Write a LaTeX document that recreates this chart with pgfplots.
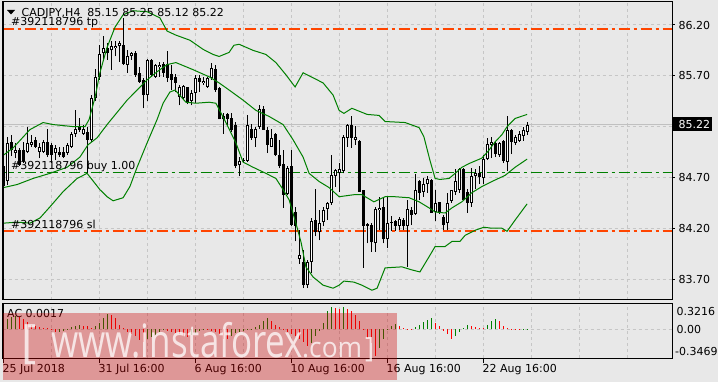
\documentclass[border=0pt]{standalone}
\usepackage{pgfplots}
\pgfplotsset{compat=1.18}
\usepackage{pgfplotstable}
\usepackage{fontspec}
\setmainfont{DejaVu Sans}
\newfontfamily\wmfont{Open Sans}
\definecolor{bgc}{RGB}{232,232,232}
\definecolor{gridc}{RGB}{198,198,198}
\definecolor{bbg}{RGB}{0,128,0}
\definecolor{tpslc}{RGB}{255,69,0}
\definecolor{buyc}{RGB}{0,128,0}
\definecolor{acgc}{RGB}{0,128,0}
\definecolor{acrc}{RGB}{255,0,0}
\definecolor{bidc}{RGB}{192,192,192}
\definecolor{wmred}{RGB}{204,0,0}
\newcommand{\lab}{\fontsize{11bp}{13bp}\selectfont}

\pgfplotstableread{
i o h l c
0 84.81 84.91 84.41 84.62
1 84.66 85.10 84.63 85.04
2 85.05 85.12 84.91 84.97
3 84.94 85.04 84.89 84.97
4 84.97 84.99 84.81 84.82
5 84.97 85.05 84.84 84.86
6 84.95 85.20 84.94 85.04
7 85.02 85.12 85.00 85.05
8 85.07 85.10 84.99 85.00
9 84.95 85.04 84.89 85.00
10 84.95 85.07 84.94 85.05
11 85.05 85.18 84.90 84.92
12 85.02 85.04 84.84 84.92
13 84.94 85.02 84.87 84.99
14 84.95 85.00 84.90 84.92
15 84.95 85.00 84.89 84.90
16 84.94 85.04 84.92 85.02
17 85.00 85.15 84.99 85.13
18 85.13 85.36 85.10 85.18
19 85.20 85.28 85.15 85.17
20 85.13 85.22 85.12 85.18
21 85.15 85.20 84.74 85.07
22 85.07 85.51 85.05 85.48
23 85.48 85.77 85.45 85.69
24 85.69 86.00 85.66 85.91
25 85.92 86.09 85.86 85.97
26 85.97 86.02 85.86 85.92
27 85.95 86.04 85.76 85.99
28 85.97 86.04 85.89 85.99
29 85.99 86.04 85.84 86.02
30 86.00 86.27 85.81 85.82
31 85.81 85.95 85.73 85.89
32 85.89 85.93 85.86 85.92
33 85.92 85.94 85.69 85.71
34 85.73 85.79 85.63 85.64
35 85.66 85.68 85.38 85.51
36 85.51 85.87 85.45 85.86
37 85.86 85.87 85.69 85.71
38 85.69 85.82 85.68 85.81
39 85.79 85.84 85.69 85.81
40 85.82 85.84 85.69 85.73
41 85.82 85.94 85.64 85.68
42 85.72 85.81 85.56 85.66
43 85.69 85.72 85.54 85.63
44 85.49 85.61 85.41 85.59
45 85.48 85.61 85.46 85.60
46 85.59 85.59 85.42 85.43
47 85.45 85.56 85.41 85.53
48 85.53 85.71 85.43 85.68
49 85.68 85.71 85.54 85.64
50 85.63 85.69 85.61 85.65
51 85.59 85.69 85.58 85.68
52 85.68 85.83 85.66 85.78
53 85.77 85.81 85.54 85.56
54 85.58 85.59 85.27 85.27
55 85.27 85.33 85.13 85.30
56 85.32 85.33 85.22 85.27
57 85.28 85.33 85.15 85.17
58 85.22 85.25 84.79 84.81
59 84.82 84.90 84.71 84.86
60 84.86 84.89 84.84 84.87
61 84.86 85.31 84.85 85.22
62 85.18 85.23 85.07 85.09
63 85.09 85.20 85.00 85.18
64 85.20 85.41 85.18 85.37
65 85.37 85.40 85.17 85.17
66 85.17 85.20 84.94 85.02
67 85.00 85.18 85.00 85.09
68 85.13 85.14 84.91 84.92
69 84.92 85.07 84.79 84.81
70 84.83 84.97 84.40 84.53
71 84.54 84.81 84.53 84.79
72 84.81 84.97 84.22 84.23
73 84.36 84.41 84.07 84.22
74 83.90 84.18 83.85 83.94
75 83.87 83.99 83.61 83.64
76 83.64 83.89 83.61 83.87
77 83.87 84.30 83.76 84.27
78 84.28 84.59 84.12 84.16
79 84.16 84.38 84.08 84.25
80 84.26 84.41 84.22 84.38
81 84.39 84.46 84.28 84.45
82 84.45 84.92 84.43 84.72
83 84.71 84.78 84.61 84.77
84 84.74 84.84 84.56 84.78
85 84.76 85.12 84.74 85.10
86 85.09 85.23 85.00 85.22
87 85.22 85.30 84.99 85.09
88 85.07 85.21 85.02 85.10
89 85.06 85.07 84.56 84.56
90 84.58 84.58 83.81 84.22
91 84.24 84.25 84.05 84.22
92 84.23 84.25 83.97 84.06
93 84.05 84.41 83.97 84.39
94 84.38 84.51 84.18 84.40
95 84.41 84.50 84.05 84.09
96 84.09 84.51 84.01 84.25
97 84.25 84.32 84.17 84.26
98 84.27 84.28 84.17 84.22
99 84.22 84.31 84.18 84.29
100 84.28 84.30 84.18 84.22
101 84.22 84.48 83.82 84.39
102 84.38 84.41 84.23 84.33
103 84.34 84.73 84.33 84.58
104 84.66 84.67 84.48 84.55
105 84.56 84.69 84.51 84.64
106 84.64 84.71 84.55 84.68
107 84.67 84.68 84.35 84.35
108 84.36 84.58 84.27 84.45
109 84.46 84.46 84.34 84.35
110 84.31 84.33 84.18 84.23
111 84.25 84.55 84.18 84.45
112 84.47 84.58 84.45 84.58
113 84.56 84.78 84.53 84.66
114 84.58 84.79 84.55 84.78
115 84.78 84.79 84.47 84.48
116 84.56 84.59 84.35 84.45
117 84.45 84.79 84.41 84.71
118 84.71 84.78 84.59 84.74
119 84.74 84.81 84.64 84.70
120 84.69 84.92 84.64 84.88
121 84.88 85.09 84.87 85.03
122 85.02 85.10 84.89 85.05
123 85.04 85.05 84.90 84.93
124 84.92 85.05 84.90 85.04
125 85.06 85.07 84.84 84.86
126 84.85 85.30 84.76 85.17
127 85.17 85.18 84.93 85.05
128 85.04 85.12 85.02 85.10
129 85.06 85.16 85.05 85.13
130 85.11 85.20 85.06 85.17
131 85.15 85.25 85.12 85.22
}\candles

\pgfplotstableread{
i v
0 0.095
1 0.129
2 0.149
3 0.162
14 -0.029
15 -0.021
16 -0.012
17 0.025
18 0.046
19 0.054
23 0.037
24 0.079
25 0.137
26 0.191
36 -0.120
37 -0.095
38 -0.071
39 -0.029
40 -0.004
47 -0.071
48 -0.037
49 -0.017
50 -0.004
57 -0.079
58 -0.046
59 -0.029
60 -0.015
61 -0.004
62 0.008
63 0.025
64 0.054
65 0.108
66 0.137
77 -0.170
78 -0.079
79 -0.017
80 0.079
81 0.220
82 0.274
85 0.274
94 -0.230
95 -0.120
96 0.010
97 0.045
98 0.065
103 0.025
104 0.054
105 0.087
106 0.120
107 0.134
113 -0.079
114 -0.029
115 0.021
116 0.054
121 0.054
122 0.108
123 0.125
130 0.001
131 0.0017
}\acgreen

\pgfplotstableread{
i v
4 0.149
5 0.129
6 0.095
7 0.054
8 0.037
9 0.033
10 0.021
11 0.012
12 0.004
13 -0.029
20 0.046
21 0.037
22 0.021
27 0.178
28 0.137
29 0.054
30 0.012
31 -0.029
32 -0.058
33 -0.079
34 -0.129
35 -0.154
41 -0.017
42 -0.029
43 -0.037
44 -0.058
45 -0.079
46 -0.087
51 -0.008
52 -0.017
53 -0.029
54 -0.058
55 -0.112
56 -0.120
67 0.108
68 0.054
69 0.025
70 0.004
71 -0.029
72 -0.058
73 -0.079
74 -0.120
75 -0.154
76 -0.203
83 0.261
84 0.253
86 0.253
87 0.220
88 0.170
89 0.108
90 -0.004
91 -0.100
92 -0.162
93 -0.320
99 0.037
100 0.012
101 0.004
102 0.003
108 0.080
109 0.037
110 -0.017
111 -0.060
112 -0.110
117 0.046
118 0.029
119 0.021
120 0.012
124 0.108
125 0.037
126 0.012
127 0.004
128 0.002
129 -0.002
}\acred

\pgfplotsset{mt/.style={
  scale only axis, anchor=south west, width=669.5bp,
  xmin=-0.25, xmax=167.125,
  axis line style={black, line width=1bp},
  xtick={12,24,...,156}, xticklabels={}, yticklabels={},
  tick style={draw=none},
  grid=major,
  major grid style={gridc, line width=1bp, dash pattern=on 3bp off 3bp},
}}

\begin{document}
\begin{tikzpicture}
\useasboundingbox (0,0) rectangle (718bp,382bp);
\fill[bgc] (0,0) rectangle (718bp,382bp);

\begin{axis}[mt, at={(2.5bp,82bp)}, height=298bp, ymin=83.494, ymax=86.426,
  ytick={83.7,84.2,84.7,85.2,85.7,86.2}]
\addplot[draw=bidc, line width=1bp, mark=none, solid] coordinates {(-0.25,85.22) (167.125,85.22)};
\addplot[draw=tpslc, line width=1.6bp, mark=none, dash pattern=on 11bp off 4bp on 3bp off 4bp] coordinates {(-0.25,86.16) (167.125,86.16)};
\addplot[draw=buyc, line width=1.4bp, mark=none, dash pattern=on 11bp off 4bp on 3bp off 4bp] coordinates {(-0.25,84.75) (167.125,84.75)};
\addplot[draw=tpslc, line width=1.6bp, mark=none, dash pattern=on 11bp off 4bp on 3bp off 4bp] coordinates {(-0.25,84.17) (167.125,84.17)};
% wicks
\addplot[draw=none, mark=none, error bars/.cd, y dir=plus, y explicit, error mark=none,
  error bar style={draw=black, line width=1bp, solid}]
  table[x=i, y=l, y error expr=\thisrow{h}-\thisrow{l}] {\candles};
% bodies
\addplot[draw=none, mark=none, error bars/.cd, y dir=plus, y explicit, error mark=none,
  error bar style={draw=black, line width=3bp, solid}]
  table[x=i, y expr={min(\thisrow{o},\thisrow{c})}, y error expr={max(abs(\thisrow{c}-\thisrow{o}),0.0098)}] {\candles};
% hollow interiors of rising candles
\addplot[draw=none, mark=none, error bars/.cd, y dir=plus, y explicit, error mark=none,
  error bar style={draw=white, line width=1bp, solid}]
  table[x=i, y expr={\thisrow{o}+0.0098}, y error expr={max(\thisrow{c}-\thisrow{o}-0.0197,0)}] {\candles};
% Bollinger bands
\addplot[bbg, line width=1bp, mark=none] coordinates {
(0,84.92) (2.4,84.99) (6.6,85.17) (9.9,85.24) (12.4,85.22) (17.4,85.20) (20.4,85.20) (21.4,85.27) (22.9,85.49) (24.1,85.73) (25.9,85.98) (27.9,86.18) (29.9,86.30) (32.4,86.34) (35.9,86.33) (39.1,86.27) (40.9,86.14) (43.1,86.10) (46.6,86.05) (49.9,85.96) (52.4,85.91) (53.9,85.89) (56.4,85.93) (57.6,86.00) (58.9,86.01) (62.4,85.95) (65.6,85.91) (68.1,85.83) (70.6,85.71) (72.9,85.59) (74.9,85.73) (76.4,85.70) (79.9,85.63) (82.4,85.51) (83.9,85.36) (85.1,85.33) (87.1,85.38) (90.9,85.32) (93.9,85.31) (95.4,85.25) (100.4,85.24) (103.9,85.19) (105.1,85.10) (106.6,84.87) (107.9,84.69) (109.1,84.68) (111.4,84.69) (112.9,84.74) (114.6,84.80) (116.6,84.84) (119.6,84.89) (121.4,84.97) (122.9,85.05) (124.6,85.12) (125.9,85.20) (127.9,85.28) (130.9,85.32)};
\addplot[bbg, line width=1bp, mark=none] coordinates {
(0,84.60) (3.4,84.63) (7.4,84.69) (11.6,84.74) (15.9,84.80) (19.1,84.90) (21.1,85.02) (23.4,85.09) (25.9,85.22) (28.4,85.34) (30.9,85.46) (33.4,85.56) (35.9,85.66) (38.4,85.74) (40.9,85.81) (43.1,85.83) (47.4,85.76) (51.4,85.69) (53.9,85.63) (56.4,85.56) (59.9,85.46) (63.1,85.36) (66.4,85.30) (69.9,85.22) (72.4,85.07) (74.9,84.90) (76.4,84.74) (78.9,84.66) (81.4,84.60) (83.9,84.51) (87.6,84.53) (89.6,84.53) (92.6,84.46) (95.4,84.51) (97.9,84.51) (101.4,84.50) (103.9,84.46) (106.4,84.40) (107.9,84.36) (110.4,84.35) (112.1,84.40) (114.6,84.46) (117.1,84.55) (119.6,84.61) (122.1,84.66) (125.4,84.72) (127.9,84.80) (130.9,84.88)};
\addplot[bbg, line width=1bp, mark=none] coordinates {
(0,84.25) (3.4,84.26) (6.6,84.25) (9.1,84.30) (11.6,84.41) (14.9,84.56) (18.4,84.69) (20.9,84.74) (22.1,84.68) (24.1,84.58) (25.9,84.51) (27.4,84.47) (29.9,84.50) (31.6,84.61) (33.4,84.80) (35.9,85.04) (38.4,85.27) (39.9,85.43) (41.6,85.54) (42.9,85.56) (45.6,85.44) (48.1,85.43) (51.4,85.44) (53.1,85.43) (55.6,85.24) (58.1,85.04) (59.9,84.85) (62.4,84.80) (65.6,84.74) (68.1,84.69) (69.9,84.58) (71.4,84.48) (73.1,84.25) (74.4,84.06) (75.6,83.82) (77.4,83.72) (79.9,83.64) (82.4,83.61) (83.9,83.64) (85.1,83.68) (87.6,83.67) (89.6,83.64) (92.1,83.59) (93.4,83.61) (95.4,83.81) (99.6,83.82) (102.1,83.79) (104.1,83.77) (106.4,83.92) (107.9,84.02) (110.4,84.02) (112.1,84.07) (114.1,84.07) (115.4,84.13) (117.9,84.18) (120.1,84.21) (122.1,84.20) (124.6,84.20) (125.9,84.17) (127.9,84.28) (130.9,84.44)};
\end{axis}

\begin{axis}[mt, at={(2.5bp,24bp)}, height=55bp, ymin=-0.3469, ymax=0.3216, ytick={0}]
\addplot[acgc, ycomb, line width=1bp, mark=none] table[x=i, y=v] {\acgreen};
\addplot[acrc, ycomb, line width=1bp, mark=none] table[x=i, y=v] {\acred};
\end{axis}

% thicker left edge of the chart windows
\draw[black, line width=1.6bp] (2.7bp,82bp) -- (2.7bp,380bp);
\draw[black, line width=1.6bp] (2.7bp,24bp) -- (2.7bp,79bp);

% header and order labels
\fill[black] (7bp,372bp) -- (15bp,372bp) -- (11bp,367.5bp) -- cycle;
\node[anchor=base west, inner sep=0] at (21.5bp,365.3bp) {\lab CADJPY,H4\ \ 85.15 85.25 85.12 85.22};
\node[anchor=base west, inner sep=0] at (11bp,356.5bp) {\lab \#392118796 tp};
\node[anchor=base west, inner sep=0] at (11bp,212.5bp) {\lab \#392118796 buy 1.00};
\node[anchor=base west, inner sep=0] at (11bp,153.5bp) {\lab \#392118796 sl};

% price scale
\foreach \yy in {357,306.2,204.6,153.7,102.9,257.5} {\draw[black, line width=1bp] (672bp,\yy bp) -- (675bp,\yy bp);}
\node[anchor=west, inner sep=0] at (678.5bp,357bp) {\lab 86.20};
\node[anchor=west, inner sep=0] at (678.5bp,306.2bp) {\lab 85.70};
\node[anchor=west, inner sep=0] at (678.5bp,204.6bp) {\lab 84.70};
\node[anchor=west, inner sep=0] at (678.5bp,153.7bp) {\lab 84.20};
\node[anchor=west, inner sep=0] at (678.5bp,102.9bp) {\lab 83.70};
\fill[black] (673bp,251bp) rectangle (712bp,265bp);
\node[anchor=west, inner sep=0, white] at (678.5bp,257.5bp) {\lab 85.22};

% indicator window labels
\node[anchor=west, inner sep=0] at (7bp,68.7bp) {\lab AC 0.0017};
\node[anchor=west, inner sep=0] at (676.5bp,70.3bp) {\lab 0.3216};
\node[anchor=west, inner sep=0] at (676.5bp,52.8bp) {\lab 0.00};
\node[anchor=west, inner sep=0] at (675bp,30.3bp) {\lab -0.3469};

% time scale
\foreach \xx in {3,99.5,195.5,291.5,387.5,483.5} {\draw[black, line width=1bp] (\xx bp,24bp) -- (\xx bp,19bp);}
\node[anchor=west, inner sep=0] at (2.5bp,12.5bp) {\lab 25 Jul 2018};
\node[anchor=west, inner sep=0] at (98.5bp,12.5bp) {\lab 31 Jul 16:00};
\node[anchor=west, inner sep=0] at (194.5bp,12.5bp) {\lab 6 Aug 16:00};
\node[anchor=west, inner sep=0] at (290.5bp,12.5bp) {\lab 10 Aug 16:00};
\node[anchor=west, inner sep=0] at (386.5bp,12.5bp) {\lab 16 Aug 16:00};
\node[anchor=west, inner sep=0] at (482.5bp,12.5bp) {\lab 22 Aug 16:00};

% watermark
\fill[wmred, opacity=0.35] (3bp,2bp) rectangle (397bp,69.3bp);
\node[anchor=base west, inner sep=0, white, opacity=0.75] at (21bp,25bp) {\wmfont\fontsize{46bp}{46bp}\selectfont [};
\node[anchor=base west, inner sep=0, white, opacity=0.75] at (51bp,25bp) {\resizebox{252bp}{\height}{\wmfont\fontsize{46bp}{46bp}\selectfont www.instaforex}};
\node[anchor=base west, inner sep=0, white, opacity=0.75] at (302bp,25bp) {\resizebox{60bp}{\height}{\wmfont\fontsize{28bp}{28bp}\selectfont .com}};
\node[anchor=base west, inner sep=0, white, opacity=0.75] at (365bp,25bp) {\wmfont\fontsize{28bp}{28bp}\selectfont ]};
\end{tikzpicture}
\end{document}
